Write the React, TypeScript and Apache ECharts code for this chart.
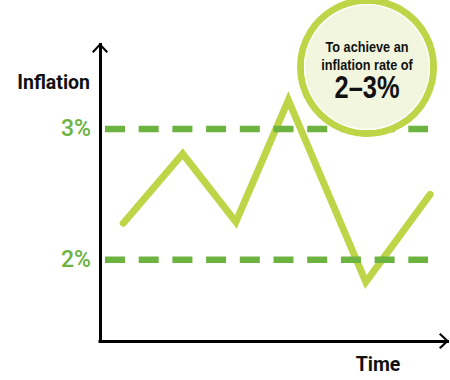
import React, { useEffect, useRef } from "react";
import * as echarts from "echarts";

// Time positions (arbitrary units along the time axis) and inflation readings (%)
const timePoints = [6.7, 23.8, 39.1, 54.2, 76.5, 95.0];
const inflationValues = [2.28, 2.81, 2.29, 3.22, 1.83, 2.5];
// Target band levels (%) and their tick labels
const targetLevels = [2, 3];
const targetLabels = ["2%", "3%"];
const targetSpan = [1.44, 94.4];
// Texts
const yAxisTitle = "Inflation";
const xAxisTitle = "Time";
const bubbleLines = ["To achieve an", "inflation rate of", "2–3%"];

const CONDENSED = "'Liberation Sans', Arial, sans-serif";
const LINE_GREEN = "#bdd547";
const DASH_GREEN = "#6cb33f";
const CHEVRON = "path://M8,0 L16,8.5 L14.5,10 L8,3 L1.5,10 L0,8.5 Z";

export default function App() {
  const ref = useRef<HTMLDivElement>(null);
  useEffect(() => {
    if (!ref.current) return;
    const chart = echarts.init(ref.current, undefined, { renderer: "svg" });
    const axisLine = {
      show: true,
      onZero: false,
      symbol: ["none", CHEVRON],
      symbolSize: [16, 10],
      symbolOffset: [0, -3.5],
      lineStyle: { color: "#000", width: 3, cap: "square" },
    };
    const bubbleText = (i: number, y: number, size: number) => ({
      type: "text",
      x: 367,
      y,
      z: 102,
      scaleX: 0.82,
      style: {
        text: bubbleLines[i],
        fontSize: size,
        fontWeight: "bold",
        fontFamily: CONDENSED,
        fill: "#111",
        align: "center",
        verticalAlign: "middle",
      },
    });
    chart.setOption({
      animation: false,
      backgroundColor: "#fff",
      grid: { left: 100, right: 2.5, top: 44.5, bottom: 39 },
      xAxis: {
        type: "value",
        min: 0,
        max: 100,
        axisLine,
        axisTick: { show: false },
        axisLabel: { show: false },
        splitLine: { show: false },
      },
      yAxis: {
        type: "value",
        min: 1.38,
        max: 3.645,
        axisLine,
        axisTick: { show: false },
        splitLine: { show: false },
        axisLabel: {
          customValues: targetLevels,
          formatter: (v: number) => {
            const i = targetLevels.indexOf(Math.round(v * 100) / 100);
            return i >= 0 ? targetLabels[i] : "";
          },
          color: DASH_GREEN,
          fontSize: 23,
          fontWeight: 500,
          fontFamily: "Roboto, sans-serif",
          margin: 9,
        },
      },
      series: [
        {
          type: "line",
          data: timePoints.map((t, i) => [t, inflationValues[i]]),
          symbol: "none",
          showSymbol: false,
          lineStyle: { color: LINE_GREEN, width: 7, cap: "round", join: "miter" },
          z: 2,
        },
        ...targetLevels.map((lvl) => ({
          type: "line",
          data: [
            [targetSpan[0], lvl],
            [targetSpan[1], lvl],
          ],
          symbol: "none",
          showSymbol: false,
          lineStyle: { color: DASH_GREEN, width: 6.5, type: [20, 13.7], cap: "butt" },
          z: 3,
        })),
      ],
      graphic: [
        {
          type: "text",
          x: 90,
          y: 82,
          z: 100,
          style: {
            text: yAxisTitle,
            fontSize: 19.5,
            fontWeight: "bold",
            fontFamily: "Roboto, 'Noto Sans', sans-serif",
            fill: "#111",
            align: "right",
            verticalAlign: "middle",
          },
        },
        {
          type: "text",
          x: 378,
          y: 364,
          z: 100,
          style: {
            text: xAxisTitle,
            fontSize: 19.5,
            fontWeight: "bold",
            fontFamily: "Roboto, 'Noto Sans', sans-serif",
            fill: "#111",
            align: "center",
            verticalAlign: "middle",
          },
        },
        {
          type: "circle",
          z: 100,
          shape: { cx: 367, cy: 67, r: 66.5 },
          style: { fill: "#f2f6df", stroke: LINE_GREEN, lineWidth: 7 },
        },
        {
          type: "circle",
          z: 101,
          shape: { cx: 367, cy: 67, r: 62.5 },
          style: { fill: "none", stroke: "#ffffff", lineWidth: 1.2 },
        },
        bubbleText(0, 47, 15.5),
        bubbleText(1, 65, 15.5),
        bubbleText(2, 87, 31),
      ],
    });
    return () => chart.dispose();
  }, []);
  return (
    <div
      ref={ref}
      style={{ position: "absolute", left: 0, top: 0, width: 450, height: 380 }}
    />
  );
}
